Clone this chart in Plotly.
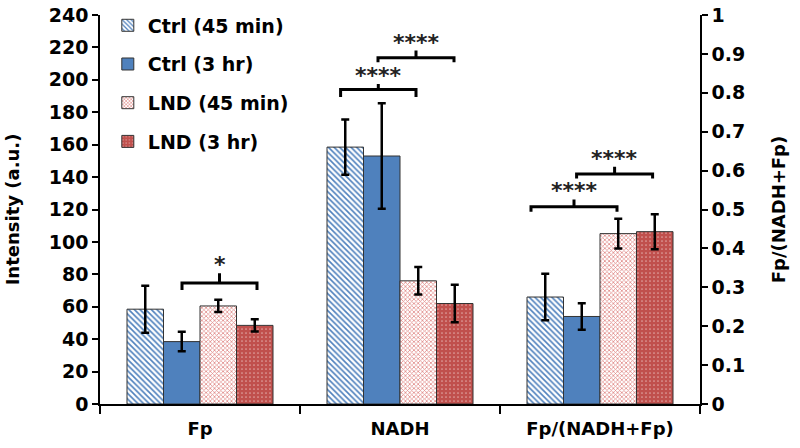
import plotly.graph_objects as go

categories = ["Fp", "NADH", "Fp/(NADH+Fp)"]
series_names = ["Ctrl (45 min)", "Ctrl (3 hr)", "LND (45 min)", "LND (3 hr)"]

# Intensity (left axis) for Fp and NADH
fp_vals = [58.5, 38.5, 60.5, 48.5]
fp_errs = [14.5, 6.0, 3.8, 3.8]
nadh_vals = [158.5, 153.0, 76.0, 62.0]
nadh_errs = [17.0, 32.5, 8.5, 11.5]
# Ratio (right axis)
ratio_vals = [0.275, 0.225, 0.438, 0.443]
ratio_errs = [0.06, 0.034, 0.038, 0.045]

left_ticks = list(range(0, 241, 20))
right_ticks = [0, 0.1, 0.2, 0.3, 0.4, 0.5, 0.6, 0.7, 0.8, 0.9, 1]
right_ticklabels = ["0", "0.1", "0.2", "0.3", "0.4", "0.5", "0.6", "0.7", "0.8", "0.9", "1"]

# significance brackets: (axis, x_start, x_end, y_line, drop, rise, label)
brackets = [
    ("y", -0.09, 0.285, 74.6, 4.2, 6.0, "*"),
    ("y", 0.703, 1.08, 194.0, 4.6, 3.5, "****"),
    ("y", 0.89, 1.27, 213.6, 2.8, 4.5, "****"),
    ("y2", 1.655, 2.085, 0.507, 0.013, 0.019, "****"),
    ("y2", 1.883, 2.263, 0.591, 0.011, 0.019, "****"),
]

blue = "#4f81bd"
red = "#c0504d"
patterns = [
    dict(shape="\\", fgcolor=blue, bgcolor="white", size=4, solidity=0.4, fillmode="replace"),
    None,
    dict(shape="x", fgcolor="#e08a88", bgcolor="white", size=3, solidity=0.45, fillmode="replace"),
    dict(shape=".", fgcolor="#e0a3a1", bgcolor=red, size=4, solidity=0.15, fillmode="replace"),
]
colors = [blue, blue, "#f2c8c7", red]

bw = 0.1825
fig = go.Figure()
for i, name in enumerate(series_names):
    off = -2 * bw + i * bw
    mk = dict(color=colors[i], line=dict(color="#333333", width=1))
    if patterns[i]:
        mk["pattern"] = patterns[i]
    common = dict(width=bw, offset=off, marker=mk, name=name, legendgroup=name)
    fig.add_trace(go.Bar(
        x=[0, 1], y=[fp_vals[i], nadh_vals[i]],
        error_y=dict(type="data", array=[fp_errs[i], nadh_errs[i]], color="black", thickness=2.5, width=4),
        yaxis="y", showlegend=True, **common))
    fig.add_trace(go.Bar(
        x=[2], y=[ratio_vals[i]],
        error_y=dict(type="data", array=[ratio_errs[i]], color="black", thickness=2.5, width=4),
        yaxis="y2", showlegend=False, **common))

for ax, x0, x1, yl, drop, rise, lab in brackets:
    xm = (x0 + x1) / 2
    path = f"M {x0},{yl - drop} L {x0},{yl} L {x1},{yl} L {x1},{yl - drop} M {xm},{yl} L {xm},{yl + rise}"
    fig.add_shape(type="path", path=path, xref="x", yref=ax,
                  line=dict(color="black", width=3))
    fig.add_annotation(x=xm, y=yl + rise, xref="x", yref=ax, text=f"<b>{lab}</b>",
                       showarrow=False, yanchor="bottom", yshift=-6,
                       font=dict(size=22, color="#222"))

font_family = "'DejaVu Sans', Arial, sans-serif"
fig.update_layout(
    width=800, height=448,
    margin=dict(l=100, r=100, t=15, b=44, autoexpand=False),
    paper_bgcolor="white", plot_bgcolor="white",
    barmode="overlay",
    font=dict(family=font_family, size=19, color="black", weight="bold"),
    xaxis=dict(
        range=[-0.5, 2.5], tickvals=[0, 1, 2], ticktext=categories,
        tickfont=dict(size=18), automargin=False,
        ticks="", showline=True, linecolor="black", linewidth=1.5, showgrid=False, zeroline=False,
        ticklabelstandoff=8,
        minor=dict(tick0=-0.5, dtick=1, ticks="outside", ticklen=8, tickcolor="black", tickwidth=1.5),
    ),
    yaxis=dict(
        range=[0, 240], tickvals=left_ticks, ticktext=[str(t) for t in left_ticks],
        ticks="outside", ticklen=6, tickwidth=1.5, tickcolor="black", automargin=False,
        showline=True, linecolor="black", linewidth=1.5, showgrid=False, zeroline=False,
        title=dict(text="Intensity (a.u.)", standoff=24, font=dict(size=18)),
    ),
    yaxis2=dict(
        range=[0, 1], overlaying="y", side="right", automargin=False,
        tickvals=right_ticks, ticktext=right_ticklabels,
        ticks="outside", ticklen=6, tickwidth=1.5, tickcolor="black",
        showline=True, linecolor="black", linewidth=1.5, showgrid=False, zeroline=False,
        title=dict(text="Fp/(NADH+Fp)", standoff=28, font=dict(size=18)),
    ),
    legend=dict(x=0.013, y=1.022, xanchor="left", yanchor="top", bgcolor="rgba(0,0,0,0)",
                font=dict(size=19), tracegroupgap=11, itemwidth=30),
    showlegend=True,
)
fig.write_html("out.html", config={"displayModeBar": False},
               post_script="document.body.style.margin='0';document.body.style.overflow='hidden';")
